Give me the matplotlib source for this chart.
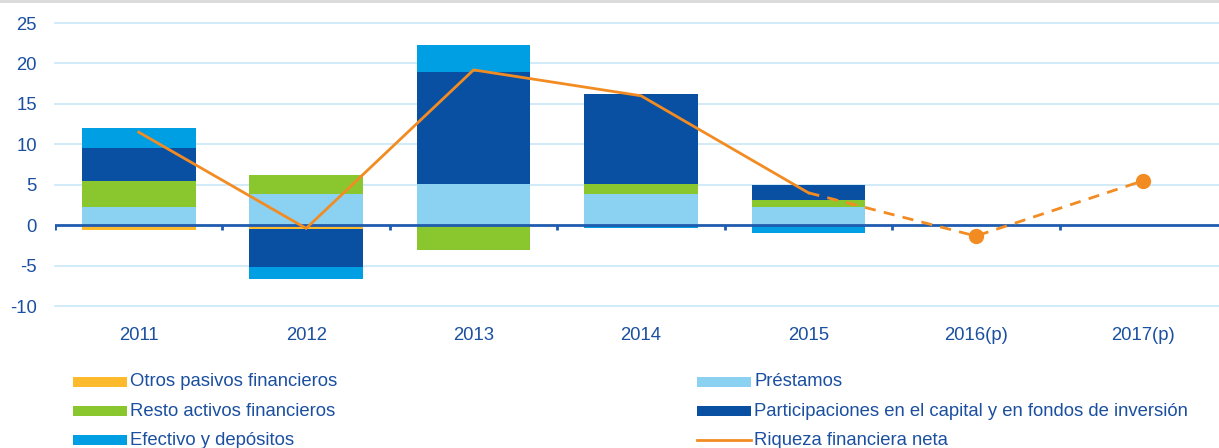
import numpy as np
import matplotlib
matplotlib.use("Agg")
import matplotlib.pyplot as plt
from matplotlib.patches import Rectangle
from matplotlib.lines import Line2D

plt.rcParams['font.family'] = ['Liberation Sans', 'DejaVu Sans']
plt.rcParams['axes.unicode_minus'] = False

# ---------------------------------------------------------------------------
# data
# ---------------------------------------------------------------------------
years = ["2011", "2012", "2013", "2014", "2015", "2016(p)", "2017(p)"]

otros_pasivos = [-0.55, -0.5, 0.0, 0.0, 0.0, 0.0, 0.0]
prestamos = [2.3, 3.85, 5.1, 3.85, 2.3, 0.0, 0.0]
resto_activos = [3.2, 2.35, -3.1, 1.3, 0.8, 0.0, 0.0]
participaciones = [4.0, -4.66, 13.8, 11.1, 1.9, 0.0, 0.0]
efectivo = [2.5, -1.44, 3.4, -0.3, -1.0, 0.0, 0.0]

riqueza_obs = [11.5, -0.4, 19.2, 16.0, 4.0]      # 2011-2015, solid
riqueza_prev = [4.0, -1.35, 5.5]                   # 2015-2017, dashed

series_labels = ["Otros pasivos financieros", "Préstamos", "Resto activos financieros",
                 "Participaciones en el capital y en fondos de inversión",
                 "Efectivo y depósitos"]
line_label = "Riqueza financiera neta"

colors = {
    "Otros pasivos financieros": "#FDBA2C",
    "Préstamos": "#8BD1F1",
    "Resto activos financieros": "#8AC72F",
    "Participaciones en el capital y en fondos de inversión": "#0A50A2",
    "Efectivo y depósitos": "#009FE3",
}
LINE_COLOR = "#F28C22"
TEXT_COLOR = "#1B4FA0"
AXIS_COLOR = "#1F5BAE"
GRID_COLOR = "#CDEBF8"
FS = 13.3

# ---------------------------------------------------------------------------
# figure
# ---------------------------------------------------------------------------
W, H = 1219, 448
fig = plt.figure(figsize=(W / 100, H / 100), dpi=100)
ax = fig.add_axes([55 / W, 1 - 306 / H, 1 - 55 / W, (306 - 23) / H])

x = np.arange(len(years))
width = 0.68
pos_base = np.zeros(len(years))
neg_base = np.zeros(len(years))
all_series = [otros_pasivos, prestamos, resto_activos, participaciones, efectivo]
for lab, vals in zip(series_labels, all_series):
    vals = np.array(vals, dtype=float)
    pos = np.where(vals > 0, vals, 0)
    neg = np.where(vals < 0, vals, 0)
    ax.bar(x, pos, width, bottom=pos_base, color=colors[lab], zorder=2, linewidth=0)
    ax.bar(x, neg, width, bottom=neg_base, color=colors[lab], zorder=2, linewidth=0)
    pos_base += pos
    neg_base += neg

# zero line with boundary ticks
ax.axhline(0, color=AXIS_COLOR, lw=2.0, zorder=3)
ax.vlines(np.arange(-0.5, len(years) + 0.5), 0, -0.6, color=AXIS_COLOR, lw=2.0, zorder=3)

# net wealth line
ax.plot(x[:5], riqueza_obs, color=LINE_COLOR, lw=2.0, zorder=4, solid_joinstyle="miter")
ax.plot(x[4:], riqueza_prev, color=LINE_COLOR, lw=2.0, ls=(0, (4, 3)), zorder=4)
ax.plot(x[5:], riqueza_prev[1:], ls="none", marker="o", ms=10, color=LINE_COLOR, zorder=5)

ax.set_xlim(-0.5, 6.5 - 8 / 167.5)
ax.set_ylim(-10, 25)
ax.set_yticks(np.arange(-10, 26, 5))
ax.set_xticks(x)
ax.set_xticklabels(years)
for yv in np.arange(-10, 26, 5):
    if yv != 0:
        ax.axhline(yv, color=GRID_COLOR, lw=1.3, zorder=1, clip_on=False)
for s in ax.spines.values():
    s.set_visible(False)
ax.tick_params(axis="both", length=0, labelsize=FS, labelcolor=TEXT_COLOR)
ax.tick_params(axis="y", pad=13)
ax.tick_params(axis="x", pad=15)

# thin gray rule at top of figure
fig.add_artist(Line2D([0, 1], [1 - 1 / H, 1 - 1 / H], transform=fig.transFigure,
                      color="#D9D9D9", lw=2.0))

# legend drawn by hand to match the layout
legend_items = [
    (series_labels[0], 73, 382, "patch"),
    (series_labels[2], 73, 411, "patch"),
    (series_labels[4], 73, 440, "patch"),
    (series_labels[1], 697, 382, "patch"),
    (series_labels[3], 697, 411, "patch"),
    (line_label, 697, 440, "line"),
]
for lab, px, py, kind in legend_items:
    if kind == "patch":
        fig.add_artist(Rectangle((px / W, 1 - (py + 5) / H), 54 / W, 10 / H,
                                 transform=fig.transFigure, color=colors[lab], lw=0))
    else:
        fig.add_artist(Line2D([px / W, (px + 54) / W], [1 - py / H, 1 - py / H],
                              transform=fig.transFigure, color=LINE_COLOR, lw=2.0))
    fig.text((px + 57) / W, 1 - py / H, lab, fontsize=FS, color=TEXT_COLOR,
             va="center", ha="left")

fig.savefig("out.png", dpi=100)
